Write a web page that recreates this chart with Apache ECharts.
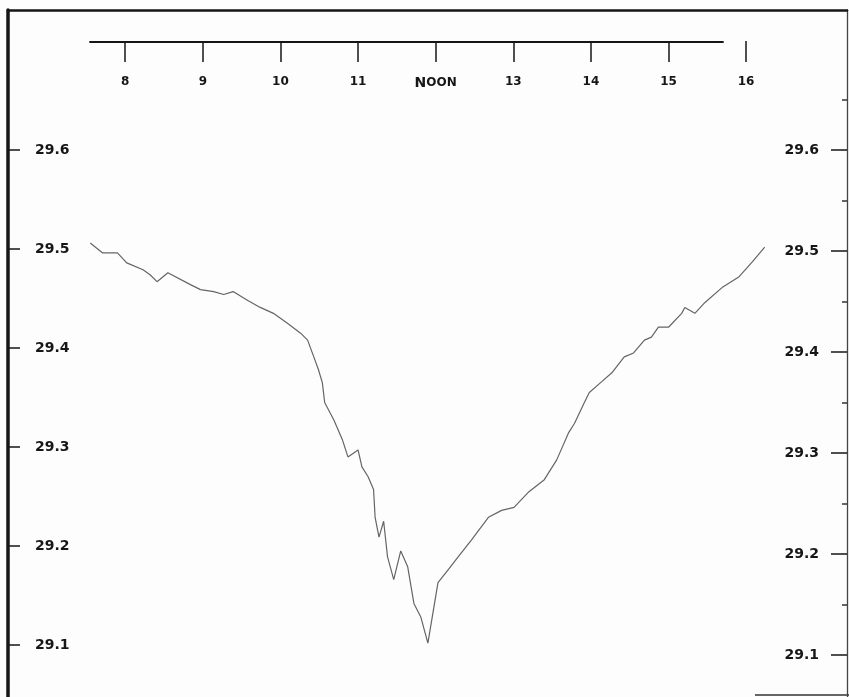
<!DOCTYPE html>
<html>
<head>
<meta charset="utf-8">
<script src="https://cdn.jsdelivr.net/npm/echarts@6/dist/echarts.min.js"></script>
<style>
  html, body { margin: 0; padding: 0; background: #fdfdfd; }
  #chart { width: 849px; height: 697px; }
</style>
</head>
<body>
<div id="chart"></div>
<script>
// barograph trace, hours of the day vs pressure (inches)
const hours = [
  7.55, 7.71, 7.90, 8.02, 8.23, 8.32, 8.41, 8.55, 8.84, 8.97,
  9.14, 9.27, 9.39, 9.58, 9.74, 9.91, 10.09, 10.26, 10.35, 10.43,
  10.49, 10.54, 10.57, 10.69, 10.80, 10.87, 11.00, 11.05, 11.13, 11.20,
  11.22, 11.27, 11.33, 11.38, 11.46, 11.55, 11.64, 11.72, 11.81, 11.90,
  12.03, 12.16, 12.29, 12.46, 12.68, 12.85, 13.01, 13.19, 13.40, 13.56,
  13.71, 13.79, 13.91, 13.98, 14.14, 14.27, 14.43, 14.55, 14.69, 14.78,
  14.87, 15.00, 15.17, 15.21, 15.34, 15.47, 15.69, 15.91, 16.08, 16.24
];
const pressure = [
  29.506, 29.496, 29.496, 29.486, 29.479, 29.474, 29.467, 29.476, 29.464, 29.459,
  29.457, 29.454, 29.457, 29.448, 29.441, 29.435, 29.425, 29.415, 29.408, 29.391,
  29.378, 29.365, 29.345, 29.327, 29.307, 29.290, 29.297, 29.280, 29.270, 29.257,
  29.229, 29.209, 29.225, 29.189, 29.166, 29.195, 29.179, 29.142, 29.128, 29.102,
  29.163, 29.176, 29.189, 29.206, 29.229, 29.236, 29.239, 29.254, 29.267, 29.287,
  29.314, 29.324, 29.344, 29.355, 29.366, 29.375, 29.391, 29.395, 29.408, 29.411,
  29.421, 29.421, 29.435, 29.441, 29.435, 29.446, 29.461, 29.472, 29.487, 29.502
];

const hourTicks = [8, 9, 10, 11, 12, 13, 14, 15, 16];
const hourLabels = ['8', '9', '10', '11', 'NOON', '13', '14', '15', '16'];
const pressureTicks = [29.1, 29.2, 29.3, 29.4, 29.5, 29.6];
const pressureMinor = [29.15, 29.25, 29.35, 29.45, 29.55, 29.65];

const font = 'DejaVu Sans';
const ink = '#161616';

const chart = echarts.init(document.getElementById('chart'));

// the two pressure scales on the card don't quite line up, so left and right get their own range
const xMin = 6.49, xMax = 17.30;

chart.setOption({
  backgroundColor: '#fdfdfd',
  animation: false,
  grid: [
    { left: 8, right: 2, top: 10, bottom: 0 },
    { left: 90, width: 633, top: 41, height: 1 }
  ],
  xAxis: [
    { // top edge of the card
      type: 'value', gridIndex: 0, position: 'top', min: xMin, max: xMax,
      axisLine: { lineStyle: { color: ink, width: 2.5 } },
      axisTick: { show: false }, axisLabel: { show: false }, splitLine: { show: false }
    },
    { // hour ticks
      type: 'value', gridIndex: 0, position: 'top', offset: -31, min: xMin, max: xMax,
      axisLine: { show: false },
      axisTick: { inside: true, length: 21, customValues: hourTicks, lineStyle: { color: ink, width: 1.5 } },
      axisLabel: {
        inside: true, margin: 35, customValues: hourTicks,
        fontFamily: font, fontSize: 12, fontWeight: 'bold', color: ink,
        formatter: v => {
          const s = hourLabels[hourTicks.indexOf(Math.round(v))];
          return s === 'NOON' ? '{b|N}{s|OON}' : s;
        },
        rich: {
          b: { fontSize: 14, fontFamily: font, color: ink },
          s: { fontSize: 12, fontFamily: font, color: ink }
        }
      },
      splitLine: { show: false }
    },
    { // the printed time line
      type: 'value', gridIndex: 1, position: 'top', min: 0, max: 1,
      axisLine: { lineStyle: { color: ink, width: 1.8 } },
      axisTick: { show: false }, axisLabel: { show: false }, splitLine: { show: false }
    }
  ],
  yAxis: [
    {
      type: 'value', gridIndex: 0, position: 'left', min: 29.0475, max: 29.7414,
      axisLine: { show: true, lineStyle: { color: ink, width: 3.5 } },
      axisTick: { inside: true, length: 12, customValues: pressureTicks, lineStyle: { color: ink, width: 1.5 } },
      axisLabel: {
        inside: true, margin: 27, customValues: pressureTicks,
        fontFamily: font, fontSize: 14, fontWeight: 'bold', color: ink,
        formatter: v => v.toFixed(1)
      },
      splitLine: { show: false }
    },
    {
      type: 'value', gridIndex: 0, position: 'right', min: 29.0584, max: 29.7386,
      axisLine: { show: true, lineStyle: { color: '#444', width: 1.3 } },
      axisTick: { inside: true, length: 16, customValues: pressureTicks, lineStyle: { color: ink, width: 1.5 } },
      axisLabel: {
        inside: true, margin: 28, customValues: pressureTicks,
        fontFamily: font, fontSize: 14, fontWeight: 'bold', color: ink,
        formatter: v => v.toFixed(1)
      },
      splitLine: { show: false }
    },
    {
      type: 'value', gridIndex: 0, position: 'right', min: 29.0584, max: 29.7386,
      axisLine: { show: false },
      axisTick: { inside: true, length: 5, customValues: pressureMinor, lineStyle: { color: '#333', width: 1.5 } },
      axisLabel: { show: false }, splitLine: { show: false }
    },
    { type: 'value', gridIndex: 1, show: false }
  ],
  graphic: [
    { type: 'line', shape: { x1: 755, y1: 695, x2: 849, y2: 695 }, style: { stroke: '#333', lineWidth: 1.5 } }
  ],
  series: [
    {
      type: 'line',
      xAxisIndex: 0, yAxisIndex: 0,
      data: hours.map((h, i) => [h, pressure[i]]),
      showSymbol: false,
      lineStyle: { color: '#4a4a4a', width: 1.2, opacity: 0.85 }
    }
  ]
});
</script>
</body>
</html>
